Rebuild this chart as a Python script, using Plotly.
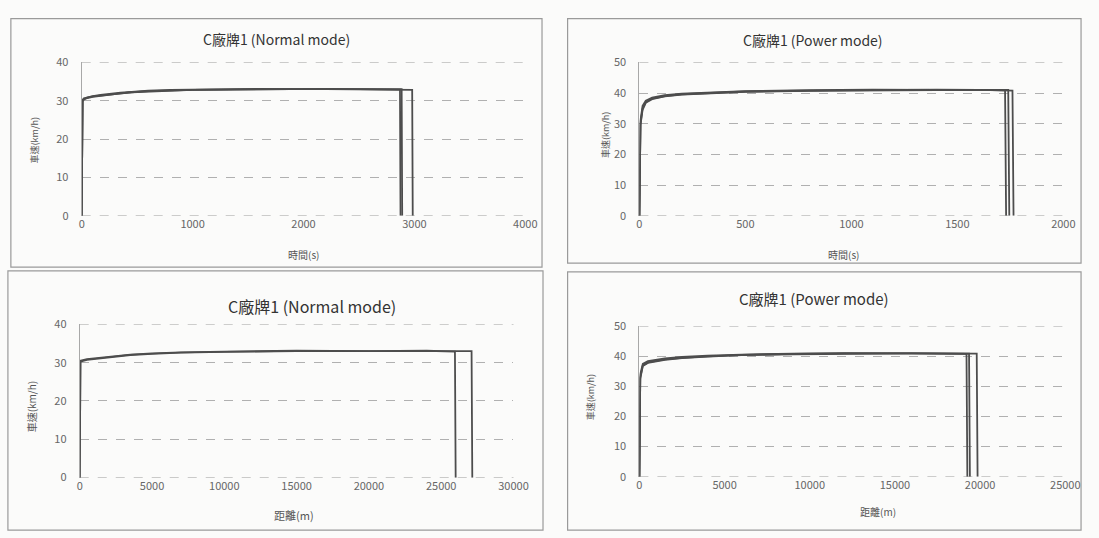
import plotly.graph_objects as go

# ---------------- data ----------------
TITLE_NORMAL = "C廠牌1 (Normal mode)"
TITLE_POWER = "C廠牌1 (Power mode)"
Y_TITLE = "車速(km/h)"
X_TIME = "時間(s)"
X_DIST = "距離(m)"

# Panel 1: Normal mode, speed vs time (three runs)
n_time_t = [[0, 8, 20, 50, 100, 170, 250, 350, 450, 600, 800, 1000, 1300, 1600, 1900, 2200, 2500, 2750, 2870, 2875],
            [0, 8, 20, 50, 100, 170, 250, 350, 450, 600, 800, 1000, 1300, 1600, 1900, 2200, 2500, 2750, 2885, 2890],
            [0, 8, 20, 50, 100, 170, 250, 350, 450, 600, 800, 1000, 1300, 1600, 1900, 2200, 2500, 2750, 2980, 2985]]
n_time_v = [[0, 30.0, 30.4, 30.8, 31.1, 31.3, 31.6, 32.0, 32.2, 32.5, 32.7, 32.8, 32.9, 33.0, 33.0, 33.1, 33.0, 33.0, 32.9, 0],
            [0, 30.2, 30.6, 30.9, 31.2, 31.5, 31.8, 32.1, 32.3, 32.6, 32.8, 32.9, 33.0, 33.1, 33.0, 33.0, 33.1, 33.0, 33.0, 0],
            [0, 29.8, 30.3, 30.7, 31.0, 31.2, 31.5, 31.9, 32.2, 32.4, 32.6, 32.8, 32.9, 33.0, 33.0, 33.0, 32.9, 32.9, 32.8, 0]]

# Panel 2: Power mode, speed vs time (three runs)
p_time_t = [[0, 5, 15, 30, 60, 120, 200, 350, 500, 800, 1100, 1400, 1600, 1725, 1730],
            [0, 5, 15, 30, 60, 120, 200, 350, 500, 800, 1100, 1400, 1600, 1740, 1745],
            [0, 5, 15, 30, 60, 120, 200, 350, 500, 800, 1100, 1400, 1600, 1760, 1765]]
p_time_v = [[0, 30.0, 35.0, 37.0, 38.2, 39.0, 39.6, 40.1, 40.5, 40.8, 41.0, 41.1, 41.0, 40.9, 0],
            [0, 31.0, 35.8, 37.5, 38.5, 39.3, 39.8, 40.3, 40.6, 40.9, 41.1, 41.0, 41.1, 41.0, 0],
            [0, 29.5, 34.5, 36.8, 38.0, 38.9, 39.5, 40.0, 40.4, 40.7, 40.9, 41.0, 41.0, 40.8, 0]]

# Panel 3: Normal mode, speed vs distance (two runs)
n_dist_x = [[0, 50, 500, 1200, 2000, 3500, 5000, 7000, 10000, 15000, 20000, 24000, 25950, 26000],
            [0, 50, 500, 1200, 2000, 3500, 5000, 7000, 10000, 15000, 20000, 24000, 27100, 27150]]
n_dist_v = [[0, 30.3, 30.7, 31.0, 31.5, 32.0, 32.3, 32.6, 32.8, 33.0, 33.0, 33.1, 32.9, 0],
            [0, 30.5, 30.9, 31.2, 31.6, 32.1, 32.4, 32.7, 32.9, 33.1, 33.0, 33.0, 33.0, 0]]

# Panel 4: Power mode, speed vs distance (three runs)
p_dist_x = [[0, 50, 200, 500, 1500, 2500, 4000, 6000, 9000, 12000, 16000, 19200, 19250],
            [0, 50, 200, 500, 1500, 2500, 4000, 6000, 9000, 12000, 16000, 19350, 19400],
            [0, 50, 200, 500, 1500, 2500, 4000, 6000, 9000, 12000, 16000, 19800, 19850]]
p_dist_v = [[0, 33.0, 37.0, 38.0, 39.0, 39.5, 40.0, 40.5, 40.8, 41.0, 41.0, 40.8, 0],
            [0, 34.0, 37.5, 38.4, 39.3, 39.8, 40.2, 40.6, 40.9, 41.1, 41.0, 40.9, 0],
            [0, 32.5, 36.8, 37.8, 38.8, 39.4, 39.9, 40.4, 40.7, 40.9, 41.0, 40.9, 0]]

# axis ranges / ticks
x1_range, x1_dtick = [0, 4000], 1000
x2_range, x2_dtick = [0, 2000], 500
x3_range, x3_dtick = [0, 30000], 5000
x4_range, x4_dtick = [0, 25000], 5000
y_normal_range, y_power_range, y_dtick = [0, 40], [0, 50], 10

# ---------------- figure ----------------
W, H = 1099, 538
LINE = "#4d4d4d"
GRID = "#b0b0b0"
CJK = "Noto Sans CJK TC"

def px(x):
    return x / W

def py(y):
    return 1 - y / H

fig = go.Figure()

panels = [
    (n_time_t, n_time_v, "x", "y", y_normal_range),
    (p_time_t, p_time_v, "x2", "y2", y_power_range),
    (n_dist_x, n_dist_v, "x3", "y3", y_normal_range),
    (p_dist_x, p_dist_v, "x4", "y4", y_power_range),
]
for xs, vs, xa, ya, yr in panels:
    for xx, vv in zip(xs, vs):
        fig.add_trace(go.Scatter(x=xx, y=vv, mode="lines", xaxis=xa, yaxis=ya,
                                 line=dict(color=LINE, width=1.8), showlegend=False,
                                 hoverinfo="skip", cliponaxis=False))
    # dashed gridlines on the range edges (bottom and top)
    for yv in yr:
        fig.add_shape(type="line", xref=f"{xa} domain", yref=ya, x0=0, x1=1, y0=yv, y1=yv,
                      line=dict(color=GRID, width=1, dash="dash"), layer="below")

tickfont = dict(family=CJK, size=11, color="#666")

def xax(domain, rng, dtick, anchor):
    return dict(domain=domain, range=rng, dtick=dtick, anchor=anchor, tickformat="d",
                showgrid=False, zeroline=False, showline=False,
                tickfont=tickfont, ticks="", fixedrange=True)

def yax(domain, rng, anchor):
    return dict(domain=domain, range=rng, dtick=y_dtick, tick0=0, anchor=anchor,
                showgrid=True, gridcolor=GRID, griddash="dash", gridwidth=1,
                zeroline=False, showline=True, linecolor="#a8a8a8", linewidth=1,
                tickfont=tickfont, ticks="", ticklabelstandoff=10, fixedrange=True)

fig.update_layout(
    width=W, height=H,
    margin=dict(l=0, r=0, t=0, b=0),
    paper_bgcolor="#fbfbfa", plot_bgcolor="rgba(0,0,0,0)",
    xaxis=xax([px(80), px(531)], x1_range, x1_dtick, "y"),
    yaxis=yax([py(213), py(55)], y_normal_range, "x"),
    xaxis2=xax([px(647), px(1078)], x2_range, x2_dtick, "y2"),
    yaxis2=yax([py(213), py(55)], y_power_range, "x2"),
    xaxis3=xax([px(78), px(519)], x3_range, x3_dtick, "y3"),
    yaxis3=yax([py(483), py(325)], y_normal_range, "x3"),
    xaxis4=xax([px(647), px(1080)], x4_range, x4_dtick, "y4"),
    yaxis4=yax([py(482), py(327)], y_power_range, "x4"),
)

# panel borders
borders = [(8, 10, 548, 266), (574, 10, 1096, 262), (5, 270, 549, 537), (574, 271, 1096, 537)]
for x0, y0, x1, y1 in borders:
    fig.add_shape(type="rect", xref="paper", yref="paper",
                  x0=px(x0), x1=px(x1), y0=py(y1), y1=py(y0),
                  line=dict(color="#9a9a9a", width=1.2), layer="below")

def ann(text, x, y, size, color="#333", angle=0):
    fig.add_annotation(text=text, x=px(x), y=py(y), xref="paper", yref="paper",
                       showarrow=False, textangle=angle, xanchor="center", yanchor="middle",
                       font=dict(family=CJK, size=size, color=color))

# titles
ann(TITLE_NORMAL, 278, 31, 14)
ann(TITLE_POWER, 823, 32, 14)
ann(TITLE_NORMAL, 314, 306, 16)
ann(TITLE_POWER, 825, 298, 15)
# x titles
ann(X_TIME, 306, 253, 10, "#555")
ann(X_TIME, 855, 253, 10, "#555")
ann(X_DIST, 296, 521, 11, "#555")
ann(X_DIST, 890, 518, 10, "#555")
# y titles
ann(Y_TITLE, 33, 135, 9, "#555", -90)
ann(Y_TITLE, 612, 130, 9, "#555", -90)
ann(Y_TITLE, 29, 410, 10, "#555", -90)
ann(Y_TITLE, 597, 400, 9, "#555", -90)

fig.write_html("out.html")
